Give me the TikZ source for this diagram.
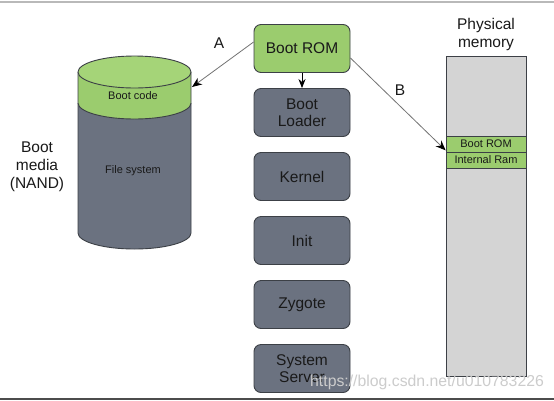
\documentclass[tikz,border=0pt]{standalone}
\usepackage{fontspec}
\setmainfont{Liberation Sans}
\usetikzlibrary{arrows.meta}
\definecolor{bootgreen}{RGB}{155,204,110}
\definecolor{topgreen}{RGB}{165,212,120}
\definecolor{stagegray}{RGB}{107,114,128}
\definecolor{memgray}{RGB}{212,212,212}
\definecolor{edgegray}{RGB}{60,64,70}
\definecolor{txt}{RGB}{25,25,25}
\tikzset{
  stagebox/.style={draw=edgegray, line width=0.9pt, fill=stagegray, rounded corners=7pt,
    minimum width=96pt, minimum height=48pt, align=center, text=txt,
    font=\fontsize{15.5}{17}\selectfont, inner sep=0pt},
  romstage/.style={stagebox, fill=bootgreen},
  memband/.style={draw=edgegray, line width=0.7pt, fill=bootgreen, minimum width=80pt,
    minimum height=16pt, inner sep=0pt, text=txt, font=\fontsize{11}{12}\selectfont},
  flowarrow/.style={draw=gray!90!black, line width=0.8pt, -{Stealth[length=10pt,width=8pt,black]}},
  biglabel/.style={text=txt, font=\fontsize{15.5}{18}\selectfont, align=center, inner sep=0pt},
  smalllabel/.style={text=txt, font=\fontsize{11}{12}\selectfont, inner sep=0pt}
}
\begin{document}
\begin{tikzpicture}[x=1pt, y=-1pt]
% canvas
\fill[white] (0,0) rectangle (554,400);
\useasboundingbox (0,0) rectangle (554,400);
\fill[gray!55] (0,0.5) rectangle (554,3);
\fill[black!70] (0,397.5) rectangle (554,400);

% cylinder (boot media)
\fill[stagegray] (78,103) -- (78,233) arc[start angle=180, end angle=360, x radius=56.5pt, y radius=16pt] -- (191,103) -- cycle;
\draw[edgegray, line width=0.9pt] (78,103) -- (78,233) arc[start angle=180, end angle=360, x radius=56.5pt, y radius=16pt] -- (191,103);
\fill[bootgreen] (78,72) -- (78,103) arc[start angle=180, end angle=360, x radius=56.5pt, y radius=16pt] -- (191,72) -- cycle;
\draw[edgegray, line width=0.9pt] (78,72) -- (78,103) arc[start angle=180, end angle=360, x radius=56.5pt, y radius=16pt] -- (191,72);
\draw[edgegray, line width=0.9pt, fill=topgreen] (134.5,72) ellipse[x radius=56.5pt, y radius=16pt];
\node[smalllabel] (bootcode) at (133,96) {Boot code};
\node[smalllabel] (filesys) at (133,171) {File system};
\coordinate (cylside) at (192,87);
\node[biglabel] (media) at (37,167) {Boot\\media\\(NAND)};

% boot stages
\node[romstage] (bootrom) at (302,48.5) {Boot ROM};
\node[stagebox] (loader) at (302,112.5) {Boot\\Loader};
\node[stagebox] (kernel) at (302,176.5) {Kernel};
\node[stagebox] (init) at (302,240.5) {Init};
\node[stagebox] (zygote) at (302,304.5) {Zygote};
\node[stagebox] (sysserv) at (302,368.5) {System\\Server};

% physical memory
\node[biglabel] (pmtitle) at (486,34) {Physical\\memory};
\node[draw=edgegray, line width=0.9pt, fill=memgray, minimum width=80pt, minimum height=320pt, inner sep=0pt] (pm) at (486,216) {};
\node[memband] (memrom) at (486,144) {Boot ROM};
\node[memband] (memram) at (486,160) {Internal Ram};

% connectors
\draw[flowarrow] ([yshift=6.5pt]bootrom.west) -- (cylside);
\draw[flowarrow] ([yshift=-9.5pt]bootrom.east) -- ([yshift=2pt]memrom.south west);
\draw[line width=0.9pt, -{Stealth[length=9pt,width=7pt]}] (bootrom.south) -- (loader.north);
\node[biglabel] (labA) at (219,43) {A};
\node[biglabel] (labB) at (400,90) {B};

% watermark
\node[text=gray!40, font=\fontsize{15.8}{17}\selectfont, anchor=west, inner sep=0pt] (wm) at (310,382) {https://blog.csdn.net/u010783226};
\end{tikzpicture}
\end{document}
